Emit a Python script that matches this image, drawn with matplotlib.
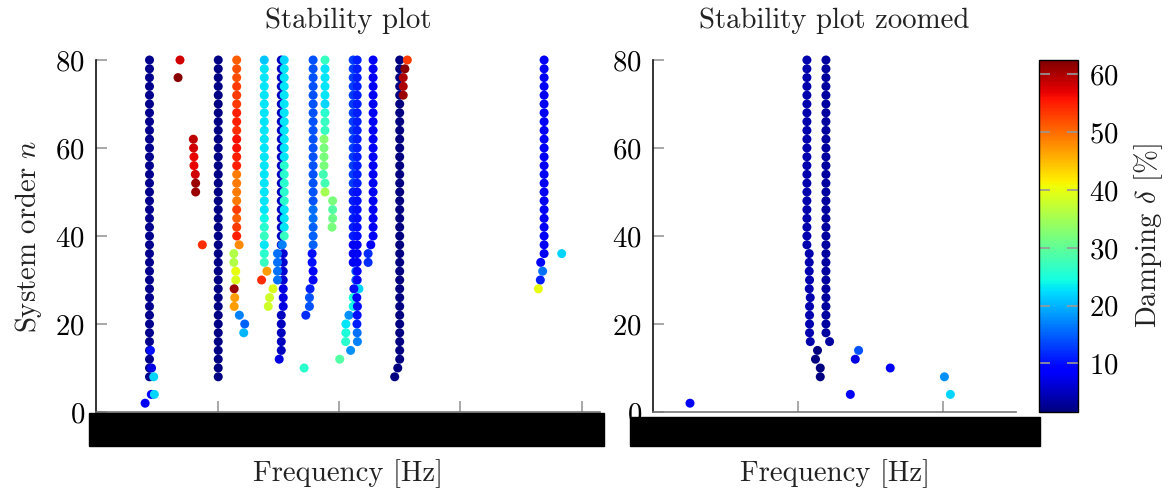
import matplotlib
matplotlib.use("Agg")
from matplotlib import pyplot as plt
from matplotlib.patches import Rectangle
from matplotlib.colors import Normalize
import numpy as np

plt.rcParams["font.family"] = ["cmr10", "DejaVu Serif"]
plt.rcParams["mathtext.fontset"] = "cm"
plt.rcParams["axes.unicode_minus"] = False
plt.rcParams["axes.formatter.use_mathtext"] = True

FONT = 20.7
TXT = "#222222"
TICK = "#999999"
DAMP_MIN, DAMP_MAX = 1.6, 62.5

# ---------------- stability plot (left) ----------------
# long columns: (frequency, orders, damping)
a_orders = list(range(80, 6, -2))
a_freq = [4.40] * len(a_orders)
a_damp = [2.5] * len(a_orders)
a_extra_freq = [4.48, 4.57, 4.75, 4.55, 4.80, 4.04]
a_extra_order = [14, 10, 8, 4, 4, 2]
a_extra_damp = [10, 7, 22, 9, 22, 8]

b_freq = [6.91, 6.75, 8.01, 8.03, 8.06, 8.06, 8.17, 8.20, 8.20, 8.75]
b_order = [80, 76, 62, 60, 58, 56, 54, 52, 50, 38]
b_damp = [58, 62, 59, 58, 57, 57, 58, 61, 61, 54]

e_orders = list(range(80, 6, -2))
e_damp = [2.0] * len(e_orders)

f_orders = list(range(80, 36, -2))
f_damp = [51, 52, 52, 53, 53, 53, 55, 55, 54, 56, 56, 55, 55, 49, 49, 49, 49, 53, 51, 53, 55, 48]
f_low_freq = [11.34, 11.34, 11.50, 11.50, 11.37, 11.42, 11.37, 11.80, 12.24, 12.16]
f_low_order = [36, 34, 32, 30, 28, 26, 24, 22, 20, 18]
f_low_damp = [36, 36, 40, 39, 61, 47, 47, 17, 15, 20]

g_orders = list(range(80, 32, -2))
g_damp = [21] + [23] * 17 + [24, 26, 27, 23, 26, 27]
g_low_freq = [14.07, 13.63, 14.57, 14.29, 14.18]
g_low_order = [32, 30, 28, 26, 24]
g_low_damp = [47, 54, 39, 38, 38]

h_navy_orders = list(range(80, 36, -2))
h_blue_freq = [15.41, 15.41, 15.41, 15.41, 15.41, 15.41, 15.41, 15.25, 15.25, 15.25, 15.25, 15.25, 15.08]
h_blue_order = [36, 34, 32, 30, 28, 26, 24, 22, 20, 18, 16, 14, 12]
h_blue_damp = [6, 6, 6, 6, 7, 7, 7, 5, 5, 5, 5, 5, 7]
h_cyan_orders = list(range(80, 38, -2))
h_cyan_damp = [22] + [23] * 11 + [26] * 5 + [23] * 3 + [27]
h_light_freq = [15.33, 14.94, 14.94, 14.94, 14.94]
h_light_order = [38, 36, 34, 32, 30]
h_light_damp = [17, 16, 16, 16, 16]

i_orders = list(range(80, 36, -2))
i_damp = [14] * 17 + [16, 16, 15, 15, 15]
i_low_freq = [17.79, 17.79, 17.87, 17.87, 17.62, 17.57, 17.57, 17.27, 17.13]
i_low_order = [36, 34, 32, 30, 28, 26, 24, 22, 10]
i_low_damp = [10, 10, 9, 9, 11, 14, 14, 12, 26]

j_freq = [18.85] * 9 + [18.77] * 4 + [18.71, 18.85, 18.85, 19.48, 19.48, 19.48, 19.43]
j_order = list(range(80, 40, -2))
j_damp = [27, 23, 23, 23, 23, 22, 26, 27, 27, 33, 32, 32, 32, 28, 28, 35, 32, 29, 31, 32]

l_orders = list(range(80, 32, -2))
l_left_damp = [13] * 15 + [11] * 6 + [8] * 3
l_right_damp = [11] * 15 + [10] * 6 + [8] * 3
l_low_freq = [21.39, 21.50, 21.39, 21.50, 21.64, 21.23, 21.17, 21.47, 21.17, 21.52,
              20.82, 21.50, 20.57, 21.48, 20.57, 21.50, 20.55, 21.52, 20.96, 20.06]
l_low_order = [32, 32, 30, 30, 28, 28, 26, 26, 24, 24, 22, 22, 20, 20, 18, 18, 16, 16, 14, 12]
l_low_damp = [15, 9, 15, 9, 22, 10, 25, 9, 24, 10, 18, 10, 23, 11, 25, 16, 26, 17, 18, 29]

m_orders = list(range(80, 38, -2))
m_low_freq = [22.62, 22.40, 22.40]
m_low_order = [38, 36, 34]
m_low_damp = [8, 12, 12]

n_orders = list(range(80, 10, -2))
n_low_freq = [24.84, 24.59]
n_low_order = [10, 8]
n_red_freq = [25.63, 25.43, 25.29, 25.29, 25.29]
n_red_order = [80, 78, 76, 74, 72]
n_red_damp = [53, 62, 60, 60, 61]

o_orders = list(range(80, 34, -2))
o_low_freq = [36.61, 36.77, 36.58, 36.42, 38.34]
o_low_order = [34, 32, 30, 28, 36]
o_low_damp = [9, 16, 11, 40, 22]

# ---------------- stability plot zoomed (right) ----------------
p_orders = list(range(80, 14, -2))
p_freq = [1.060] * 22 + [1.076, 1.076, 1.076, 1.078, 1.076, 1.083, 1.078, 1.078, 1.078, 1.078, 1.083]
p_navy_freq = [1.133, 1.119, 1.152, 1.152]
p_navy_order = [14, 12, 10, 8]
q_orders = list(range(80, 14, -2))
q_freq = [1.191] * 32 + [1.216]
z_extra_freq = [1.416, 1.393, 1.634, 2.007, 1.359, 2.048, 0.255]
z_extra_order = [14, 12, 10, 8, 4, 4, 2]
z_extra_damp = [14, 7, 8, 18, 8, 22, 8]


def collect_left():
    f, n, d = [], [], []

    def add(fr, od, dm):
        f.extend(fr); n.extend(od); d.extend(dm)

    add(a_freq, a_orders, a_damp)
    add(a_extra_freq, a_extra_order, a_extra_damp)
    add(b_freq, b_order, b_damp)
    add([10.06] * len(e_orders), e_orders, e_damp)
    add([11.58] * 21 + [11.78], f_orders, f_damp)
    add(f_low_freq, f_low_order, f_low_damp)
    add([13.85] * len(g_orders), g_orders, g_damp)
    add(g_low_freq, g_low_order, g_low_damp)
    add([15.25] * len(h_navy_orders), h_navy_orders, [5] * len(h_navy_orders))
    add(h_blue_freq, h_blue_order, h_blue_damp)
    add([15.49] * len(h_cyan_orders), h_cyan_orders, h_cyan_damp)
    add(h_light_freq, h_light_order, h_light_damp)
    add([17.87] * len(i_orders), i_orders, i_damp)
    add(i_low_freq, i_low_order, i_low_damp)
    add(j_freq, j_order, j_damp)
    add([21.17] * len(l_orders), l_orders, l_left_damp)
    add([21.50] * len(l_orders), l_orders, l_right_damp)
    add(l_low_freq, l_low_order, l_low_damp)
    add([22.81] * len(m_orders), m_orders, [8] * len(m_orders))
    add(m_low_freq, m_low_order, m_low_damp)
    add([25.0] * len(n_orders), n_orders, [1.8] * len(n_orders))
    add(n_low_freq, n_low_order, [1.8, 1.8])
    add(n_red_freq, n_red_order, n_red_damp)
    add([36.89] * len(o_orders), o_orders, [8] * len(o_orders))
    add(o_low_freq, o_low_order, o_low_damp)
    return f, n, d


def collect_right():
    f = p_freq + p_navy_freq + q_freq + z_extra_freq
    n = p_orders + p_navy_order + q_orders + z_extra_order
    d = [4] * len(p_orders) + [1.8] * 4 + [3.5] * len(q_orders) + z_extra_damp
    return f, n, d


def style_axis(ax, xmax, xticks, title):
    ax.set_xlim(0, xmax)
    ax.set_ylim(0, 80)
    ax.set_xticks(xticks)
    ax.set_yticks([0, 20, 40, 60, 80])
    for side in ("top", "right"):
        ax.spines[side].set_visible(False)
    ax.spines["left"].set_color("#111111")
    ax.spines["left"].set_linewidth(1.2)
    ax.spines["bottom"].set_color("#777777")
    ax.spines["bottom"].set_linewidth(1.2)
    ax.tick_params(direction="in", length=8, width=1.2, color=TICK,
                   labelsize=FONT, labelcolor="black", pad=8)
    ax.set_title(title, fontsize=FONT, color=TXT, pad=23)
    ax.set_xlabel("Frequency [Hz]", fontsize=FONT, color=TXT)
    ax.xaxis.set_label_coords(0.5, -0.135)


fig = plt.figure(figsize=(11.7, 4.93), dpi=100)
ax1 = fig.add_axes([0.0821, 0.1643, 0.4308, 0.714])
ax2 = fig.add_axes([0.5581, 0.1643, 0.3103, 0.714])
cax = fig.add_axes([0.888, 0.1643, 0.0333, 0.714])

norm = Normalize(DAMP_MIN, DAMP_MAX)
f, n, d = collect_left()
sc = ax1.scatter(f, n, c=d, cmap="jet", norm=norm, s=42, linewidths=0, clip_on=False, zorder=3)
f, n, d = collect_right()
ax2.scatter(f, n, c=d, cmap="jet", norm=norm, s=42, linewidths=0, clip_on=False, zorder=3)

style_axis(ax1, 41.5, [10, 20, 30, 40], "Stability plot")
style_axis(ax2, 2.5, [1, 2], "Stability plot zoomed")
ax1.set_ylabel("System order $n$", fontsize=FONT, color=TXT, labelpad=8)

cb = fig.colorbar(sc, cax=cax)
cb.set_ticks([10, 20, 30, 40, 50, 60])
cb.ax.tick_params(direction="in", length=8, width=1.2, color=TICK, labelsize=FONT,
                  left=True, right=True, pad=8)
cb.outline.set_linewidth(1.0)
cb.set_label(r"Damping $\delta$ [%]", fontsize=FONT, color=TXT, labelpad=10)

# redaction boxes over the frequency tick labels
fig.patches.append(Rectangle((89 / 1170, 47 / 493), 515 / 1170, 33 / 493,
                             transform=fig.transFigure, color="black", zorder=5))
fig.patches.append(Rectangle((630 / 1170, 47 / 493), 410 / 1170, 29 / 493,
                             transform=fig.transFigure, color="black", zorder=5))

fig.savefig("out.png", dpi=100)
